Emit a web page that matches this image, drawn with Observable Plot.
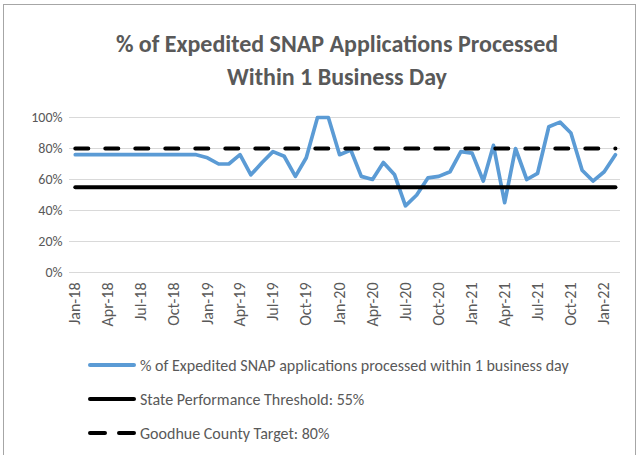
<!DOCTYPE html>
<html>
<head>
<meta charset="utf-8">
<script src="https://cdn.jsdelivr.net/npm/d3@7"></script>
<script src="https://cdn.jsdelivr.net/npm/@observablehq/plot@0.6"></script>
<style>
  html, body { margin: 0; padding: 0; background: #fff; }
  #wrap { position: relative; width: 638px; height: 455px; overflow: hidden; background: #fff;
          font-family: Carlito, "Liberation Sans Narrow", Lato, sans-serif; color: #595959; }
  #frame { position: absolute; left: 3px; top: 4px; width: 633px; height: 470px; border: 1px solid #a6a6a6; box-sizing: border-box; }
  #title { position: absolute; left: 18px; width: 638px; top: 27px; text-align: center;
           font-size: 24px; font-weight: bold; line-height: 33px; color: #595959; }
  #chart { position: absolute; left: 0; top: 100px; }
  #chart g[aria-label^="x-axis"] text { font-size: 16px; }
  #legend { position: absolute; left: 88px; top: 354px; font-size: 16px; }
  .row { position: absolute; left: 0; height: 22px; display: flex; align-items: center; white-space: nowrap; }
  .row svg { margin-right: 4px; }
</style>
</head>
<body>
<div id="wrap">
  <div id="frame"></div>
  <div id="title">% of Expedited SNAP Applications Processed<br>Within 1 Business Day</div>
  <div id="chart"></div>
  <div id="legend"></div>
</div>
<script>
// ---- data ----
const months = [
  "Jan-18","Feb-18","Mar-18","Apr-18","May-18","Jun-18","Jul-18","Aug-18","Sep-18","Oct-18","Nov-18","Dec-18",
  "Jan-19","Feb-19","Mar-19","Apr-19","May-19","Jun-19","Jul-19","Aug-19","Sep-19","Oct-19","Nov-19","Dec-19",
  "Jan-20","Feb-20","Mar-20","Apr-20","May-20","Jun-20","Jul-20","Aug-20","Sep-20","Oct-20","Nov-20","Dec-20",
  "Jan-21","Feb-21","Mar-21","Apr-21","May-21","Jun-21","Jul-21","Aug-21","Sep-21","Oct-21","Nov-21","Dec-21",
  "Jan-22","Feb-22"
];
const pctProcessed = [
  76,76,76,76,76,76,76,76,76,76,76,76,
  74,70,70,76,63,71,78,75,62,74,100,100,
  76,79,62,60,71,63,43,50,61,62,65,78,
  77,59,82,45,80,60,64,94,97,90,66,59,
  65,76
];
const stateThreshold = 55;
const countyTarget = 80;
const xTickLabels = ["Jan-18","Apr-18","Jul-18","Oct-18","Jan-19","Apr-19","Jul-19","Oct-19","Jan-20","Apr-20","Jul-20","Oct-20","Jan-21","Apr-21","Jul-21","Oct-21","Jan-22"];
const yTicks = [0, 20, 40, 60, 80, 100];
const seriesNames = [
  "% of Expedited SNAP applications processed within 1 business day",
  "State Performance Threshold: 55%",
  "Goodhue County Target: 80%"
];

// ---- build ----
const parse = d3.utcParse("%b-%y");
const fmt = d3.utcFormat("%b-%y");
const data = months.map((m, i) => ({date: parse(m), pct: pctProcessed[i], thr: stateThreshold, tgt: countyTarget}));
const first = data[0].date, last = data[data.length - 1].date;
const xDomain = [d3.utcDay.offset(first, -16), d3.utcDay.offset(last, 14)];

const BLUE = "#5B9BD5";
const plot = Plot.plot({
  width: 638,
  height: 240,
  marginTop: 17,
  marginBottom: 68,
  marginLeft: 69,
  marginRight: 18,
  style: {fontFamily: 'Carlito, "Liberation Sans Narrow", Lato, sans-serif', fontSize: "14px", color: "#595959", background: "transparent", overflow: "visible"},
  x: {type: "utc", domain: xDomain, ticks: xTickLabels.map(parse), tickFormat: fmt, tickRotate: -90, tickSize: 0, tickPadding: 10, label: null},
  y: {domain: [0, 100], ticks: yTicks, tickFormat: d => d + "%", tickSize: 0, tickPadding: 7, label: null},
  marks: [
    Plot.ruleY(yTicks, {stroke: "#d9d9d9", strokeWidth: 1}),
    Plot.line(data, {x: "date", y: "pct", stroke: BLUE, strokeWidth: 3.7, strokeLinejoin: "round", strokeLinecap: "round"}),
    Plot.line(data, {x: "date", y: "thr", stroke: "#000", strokeWidth: 4, strokeLinecap: "round"}),
    Plot.line(data, {x: "date", y: "tgt", stroke: "#000", strokeWidth: 4, strokeLinecap: "round", strokeDasharray: "13,17"})
  ]
});
document.getElementById("chart").appendChild(plot);

// ---- legend ----
const styles = [
  {stroke: BLUE, dash: null},
  {stroke: "#000", dash: null},
  {stroke: "#000", dash: "15,14"}
];
const rowTops = [0, 34, 68];
const legend = document.getElementById("legend");
seriesNames.forEach((name, i) => {
  const row = document.createElement("div");
  row.className = "row";
  row.style.top = rowTops[i] + "px";
  const s = styles[i];
  row.innerHTML = `<svg width="48" height="10"><line x1="2" x2="46" y1="5" y2="5" stroke="${s.stroke}" stroke-width="4" stroke-linecap="round" ${s.dash ? `stroke-dasharray="${s.dash}"` : ""}/></svg><span>${name}</span>`;
  legend.appendChild(row);
});
</script>
</body>
</html>
